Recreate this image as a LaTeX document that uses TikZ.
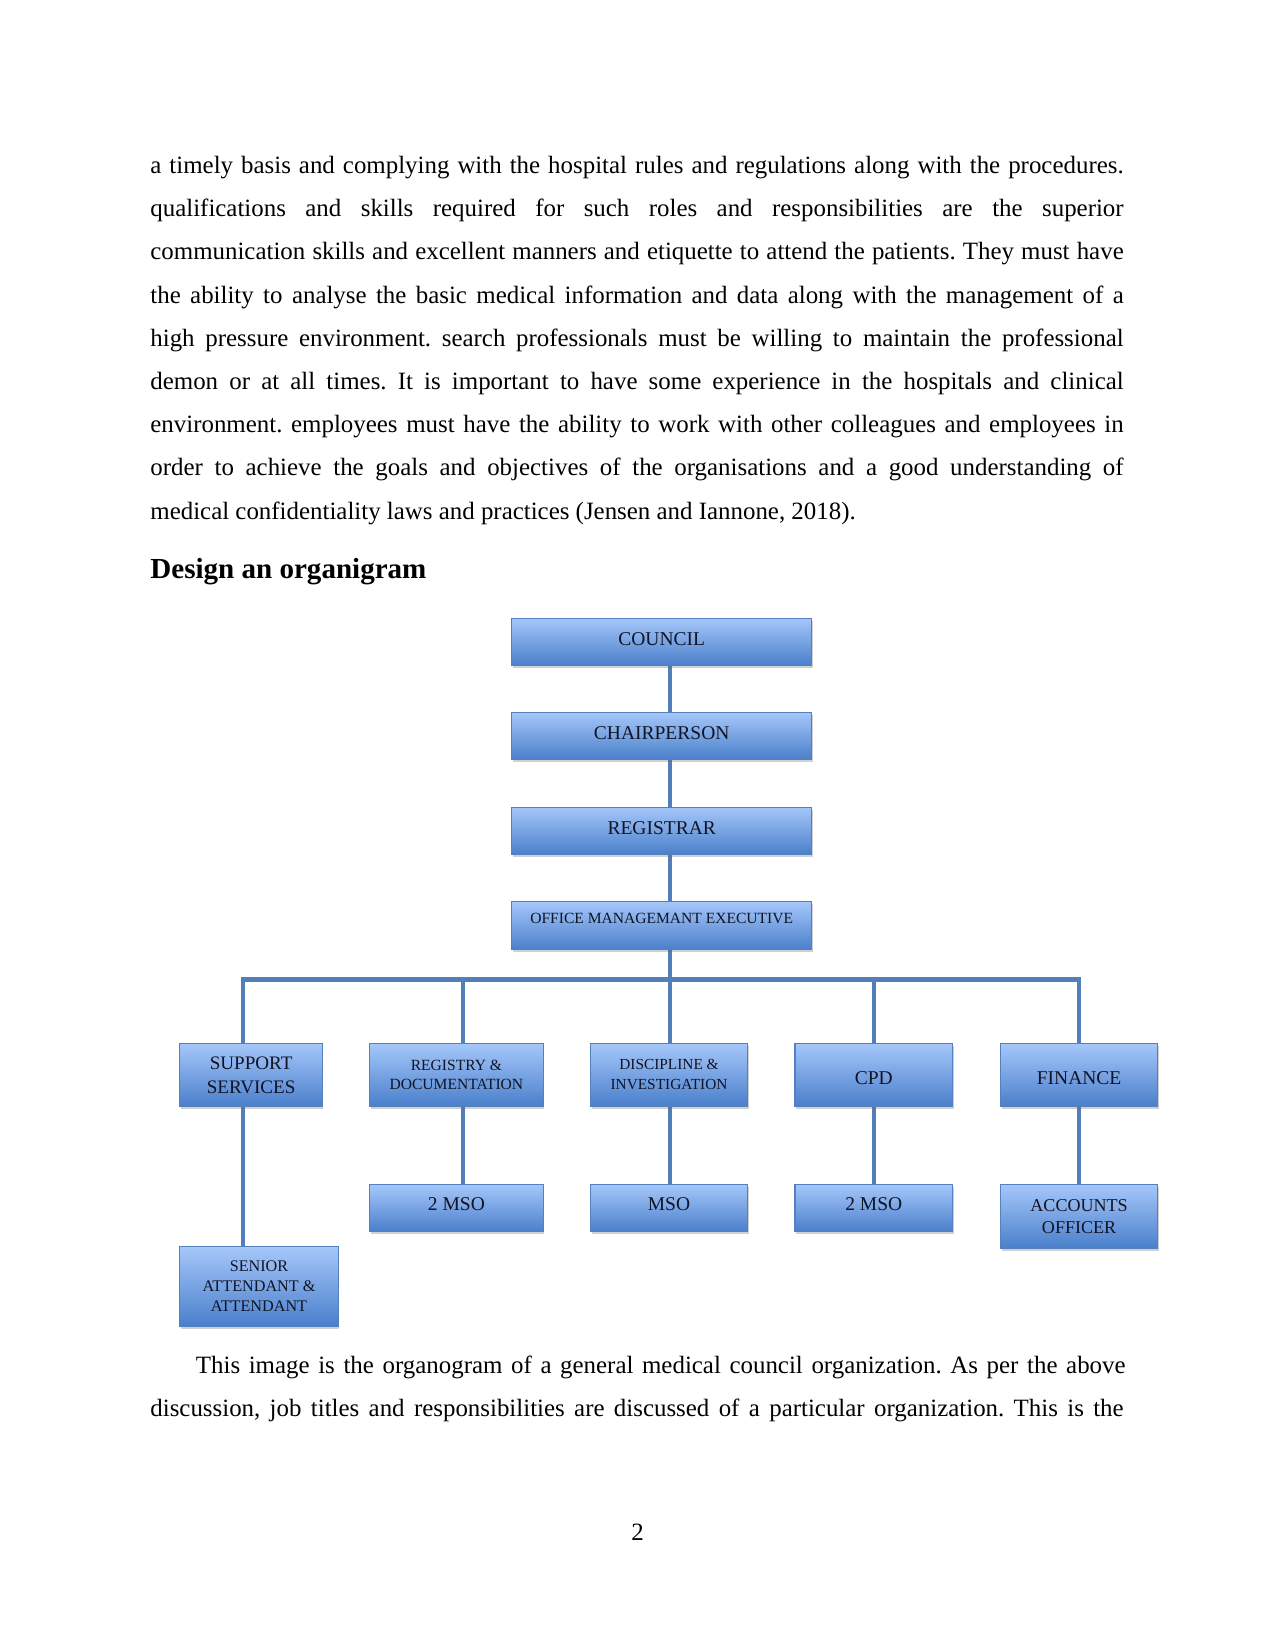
\documentclass[tikz,border=0pt]{standalone}
\usepackage{fontspec}
\setmainfont{Liberation Serif}
\usepackage{xcolor}
\usetikzlibrary{positioning,shadows,backgrounds}

\definecolor{boxtop}{RGB}{165,199,250}
\definecolor{boxmid}{RGB}{124,168,232}
\definecolor{boxbot}{RGB}{74,127,203}
\definecolor{boxedge}{RGB}{84,128,192}
\definecolor{boxtext}{RGB}{16,20,36}
\definecolor{linkblue}{RGB}{82,126,186}

\frenchspacing

\begin{document}
\begin{tikzpicture}[x=0.016933cm, y=-0.016933cm,
  body/.style={anchor=base west, inner sep=0pt, font=\fontsize{12}{14}\selectfont},
  unit/.style={draw=boxedge, line width=0.5pt, top color=boxtop, middle color=boxmid,
               bottom color=boxbot, text=boxtext, align=center, inner sep=1pt,
               drop shadow={shadow xshift=0.6pt, shadow yshift=-1.2pt, opacity=0.3, fill=black!60}},
  head/.style={unit, minimum width=5.08cm, minimum height=0.8cm, font=\fontsize{9.4}{11}\selectfont,
               text depth=0.1cm},
  dept/.style={unit, minimum height=1.07cm},
  post/.style={unit, minimum height=0.8cm, font=\fontsize{9.4}{11}\selectfont, text depth=0.15cm},
  link/.style={draw=linkblue, line width=2pt}]

  \useasboundingbox (0,0) rectangle (1275,1651);
  \begin{scope}[on background layer]
    \fill[white] (0,0) rectangle (1275,1651);
  \end{scope}

  % Text above the chart
  \node[body] (l1) at (150,173.5) {\makebox[469pt][s]{a timely basis and complying with the hospital rules and regulations along with the procedures.}};
  \node[body] (l2) at (150,216.7) {\makebox[469pt][s]{qualifications and skills required for such roles and responsibilities are the superior}};
  \node[body] (l3) at (150,259.9) {\makebox[469pt][s]{communication skills and excellent manners and etiquette to attend the patients. They must have}};
  \node[body] (l4) at (150,303.1) {\makebox[469pt][s]{the ability to analyse the basic medical information and data along with the management of a}};
  \node[body] (l5) at (150,346.3) {\makebox[469pt][s]{high pressure environment. search professionals must be willing to maintain the professional}};
  \node[body] (l6) at (150,389.5) {\makebox[469pt][s]{demon or at all times. It is important to have some experience in the hospitals and clinical}};
  \node[body] (l7) at (150,432.7) {\makebox[469pt][s]{environment. employees must have the ability to work with other colleagues and employees in}};
  \node[body] (l8) at (150,475.9) {\makebox[469pt][s]{order to achieve the goals and objectives of the organisations and a good understanding of}};
  \node[body] (l9) at (150,519.1) {medical confidentiality laws and practices (Jensen and Iannone, 2018).};

  \node[body, font=\fontsize{14}{16}\bfseries] (title) at (150,578) {Design an organigram};

  % Top of the chart
  \node[head] (council)   at (661.7,641.7) {COUNCIL};
  \node[head] (chair)     at (661.7,735.9) {CHAIRPERSON};
  \node[head] (registrar) at (661.7,830.7) {REGISTRAR};
  \node[head, font=\fontsize{7.5}{9}\selectfont, inner ysep=0pt,
        text height=0.366cm, text depth=0.452cm] (office) at (661.7,925.6)
    {OFFICE MANAGEMANT EXECUTIVE};

  % Departments
  \node[dept, minimum width=2.41cm, font=\fontsize{9.2}{11.5}\selectfont] (support) at (251.1,1074.9)
    {SUPPORT\\SERVICES};
  \node[dept, minimum width=2.94cm, font=\fontsize{7.5}{9.6}\selectfont] (registry) at (456.4,1074.9)
    {REGISTRY \&\\DOCUMENTATION};
  \node[dept, minimum width=2.66cm, font=\fontsize{7.4}{9.6}\selectfont] (discipline) at (669,1074.9)
    {DISCIPLINE \&\\INVESTIGATION};
  \node[dept, minimum width=2.67cm, font=\fontsize{9.4}{11}\selectfont, text height=0.32cm] (cpd) at (873.8,1074.9) {CPD};
  \node[dept, minimum width=2.67cm, font=\fontsize{9.4}{11}\selectfont, text height=0.32cm] (finance) at (1079.1,1074.9) {FINANCE};

  % Staff
  \node[post, minimum width=2.94cm] (msoreg) at (456.4,1208.1) {2 MSO};
  \node[post, minimum width=2.66cm] (msodis) at (669,1208.1) {MSO};
  \node[post, minimum width=2.67cm] (msocpd) at (873.8,1208.1) {2 MSO};
  \node[unit, minimum width=2.67cm, minimum height=1.09cm, font=\fontsize{8.7}{10.6}\selectfont]
    (accounts) at (1079.1,1216.5) {ACCOUNTS\\OFFICER};
  \node[unit, minimum width=2.68cm, minimum height=1.34cm, font=\fontsize{7.8}{9.6}\selectfont]
    (senior) at (259,1286.5) {SENIOR\\ATTENDANT \&\\ATTENDANT};

  % Text below the chart
  \node[body] (l10) at (195.5,1373.3) {\makebox[448pt][s]{This image is the organogram of a general medical council organization. As per the above}};
  \node[body] (l11) at (150,1416.7) {\makebox[469pt][s]{discussion, job titles and responsibilities are discussed of a particular organization. This is the}};
  \node[body, anchor=base] (pageno) at (637.7,1540) {2};

  % Connectors behind the boxes
  \coordinate (busA) at (243.2,979.5);
  \coordinate (busB) at (463.2,979.5);
  \coordinate (busC) at (669.6,979.5);
  \coordinate (busD) at (873.8,979.5);
  \coordinate (busE) at (1079.1,979.5);
  \begin{scope}[on background layer]
    \draw[link] (council.south -| busC) -- (chair.north -| busC);
    \draw[link] (chair.south -| busC) -- (registrar.north -| busC);
    \draw[link] (registrar.south -| busC) -- (office.north -| busC);
    \draw[link] (office.south -| busC) -- (discipline.north -| busC);
    \draw[link] (support.north -| busA) -- (busA) -- (busE) -- (finance.north -| busE);
    \draw[link] (busB) -- (registry.north -| busB);
    \draw[link] (busD) -- (cpd.north -| busD);
    \draw[link] (support.south -| busA) -- (senior.north -| busA);
    \draw[link] (registry.south -| busB) -- (msoreg.north -| busB);
    \draw[link] (discipline.south -| busC) -- (msodis.north -| busC);
    \draw[link] (cpd.south -| busD) -- (msocpd.north -| busD);
    \draw[link] (finance.south -| busE) -- (accounts.north -| busE);
  \end{scope}
\end{tikzpicture}
\end{document}
